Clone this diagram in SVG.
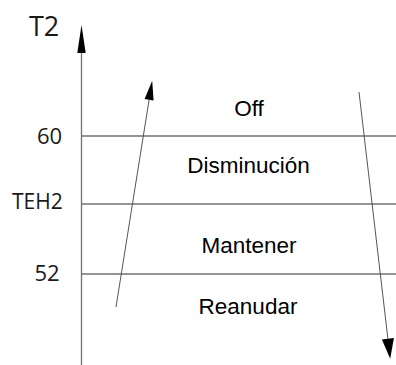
<svg xmlns="http://www.w3.org/2000/svg" width="396" height="365" viewBox="0 0 396 365">
<style>
.ax{font-family:"Open Sans","DejaVu Sans",sans-serif;fill:#1a1a1a}
.st{font-family:"Liberation Sans",Arial,sans-serif;font-size:22.5px;fill:#000;text-anchor:middle}
.ln{stroke:#707070;stroke-width:1.3;fill:none}
.tr{stroke:#555;stroke-width:1;fill:none}
.hd{fill:#000}
</style>
<rect width="396" height="365" fill="#fff"/>
<g id="axis">
<line class="ln" x1="81.5" y1="365" x2="81.5" y2="50"/>
<polygon class="hd" points="81.5,25 77.3,53 85.7,53"/>
<text class="ax" x="29" y="36" font-size="27">T2</text>
</g>
<g id="levels">
<line class="ln" x1="82" y1="136" x2="396" y2="136"/>
<line class="ln" x1="82" y1="204" x2="396" y2="204"/>
<line class="ln" x1="82" y1="274" x2="396" y2="274"/>
<text class="ax" x="37" y="144" font-size="22">60</text>
<text class="ax" x="12" y="209" font-size="21">TEH2</text>
<text class="ax" x="34.5" y="281" font-size="22">52</text>
</g>
<g id="off"><text class="st" x="249" y="116">Off</text></g>
<g id="disminucion"><text class="st" x="248.5" y="173">Disminución</text></g>
<g id="mantener"><text class="st" x="249" y="253">Mantener</text></g>
<g id="reanudar"><text class="st" x="248" y="314">Reanudar</text></g>
<g id="connectors">
<line class="tr" x1="116" y1="307" x2="149.1" y2="99.8"/>
<polygon class="hd" points="152.2,80.7 153.6,100.5 144.6,99.1"/>
<line class="tr" x1="359" y1="92" x2="387.9" y2="338.8"/>
<polygon class="hd" points="390.2,358.7 393.9,338.1 381.9,339.5"/>
</g>
</svg>
